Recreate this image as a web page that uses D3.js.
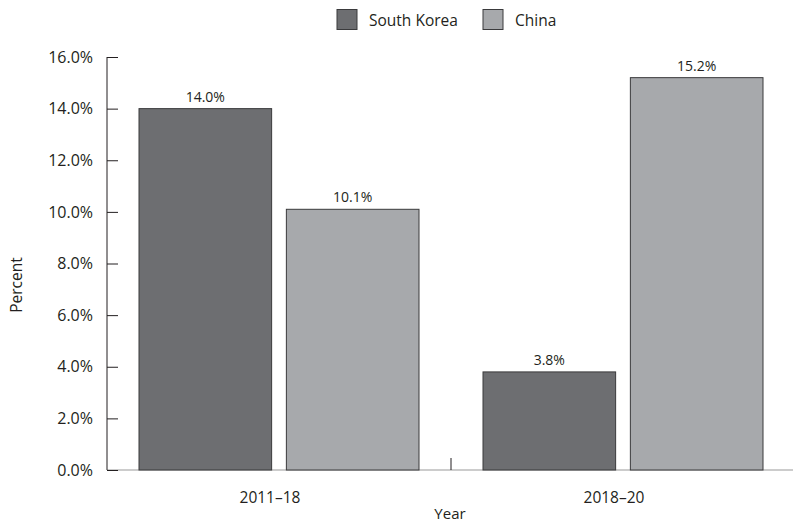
<!DOCTYPE html>
<html>
<head>
<meta charset="utf-8">
<script src="https://cdn.jsdelivr.net/npm/d3@7"></script>
<style>
  body { margin: 0; background: #fff; }
  text { font-family: "Open Sans", "Noto Sans", sans-serif; fill: #231f20; }
</style>
</head>
<body>
<svg id="chart" width="793" height="523"></svg>
<script>
// Growth rates by period, South Korea vs China
const periods = ["2011\u201318", "2018\u201320"];
const seriesNames = ["South Korea", "China"];
const southKorea = [14.0, 3.8];
const china = [10.1, 15.2];
const yTicks = [0, 2, 4, 6, 8, 10, 12, 14, 16];
const colors = ["#6d6e71", "#a7a9ac"];

const svg = d3.select("#chart");
const margin = { left: 107, right: 0, top: 57, bottom: 53 };
const W = 793, H = 523;

const x0 = d3.scaleBand().domain(periods).range([margin.left, 795]).paddingInner(0).paddingOuter(0);
const x1 = d3.scaleBand().domain(seriesNames).range([32, x0.bandwidth() - 32]).paddingInner(0.1).paddingOuter(0);
const y = d3.scaleLinear().domain([0, 16]).range([H - margin.bottom, margin.top]);

const rows = periods.map((p, i) => ({ period: p, values: [southKorea[i], china[i]] }));

// X axis baseline (light grey) with a divider tick between periods
svg.append("line")
  .attr("x1", margin.left).attr("x2", W)
  .attr("y1", y(0)).attr("y2", y(0))
  .attr("stroke", "#9a9a9a").attr("stroke-width", 1.2);
svg.append("line")
  .attr("x1", x0(periods[1])).attr("x2", x0(periods[1]))
  .attr("y1", y(0)).attr("y2", y(0) - 12)
  .attr("stroke", "#231f20").attr("stroke-width", 1);

// Y axis with inward ticks
const yAxis = d3.axisLeft(y).tickValues(yTicks).tickSize(-11).tickPadding(14)
  .tickFormat(d => d.toFixed(1) + "%");
const gy = svg.append("g").attr("transform", `translate(${margin.left},0)`).call(yAxis);
gy.select(".domain").attr("stroke", "#231f20").attr("d", `M0,${y(16)}V${y(0)}`);
gy.selectAll(".tick line").attr("stroke", "#231f20");
gy.selectAll(".tick text").attr("font-size", 16).attr("fill", "#231f20")
  .style("font-family", "'Open Sans', 'Noto Sans', sans-serif");

// Bars
const groups = svg.selectAll("g.grp").data(rows).join("g")
  .attr("class", "grp")
  .attr("transform", d => `translate(${x0(d.period)},0)`);

groups.selectAll("rect").data(d => d.values.map((v, i) => ({ name: seriesNames[i], v, i })))
  .join("rect")
  .attr("x", d => x1(d.name))
  .attr("width", x1.bandwidth())
  .attr("y", d => y(d.v))
  .attr("height", d => y(0) - y(d.v))
  .attr("fill", d => colors[d.i])
  .attr("stroke", "#3a3a3c").attr("stroke-width", 1);

groups.selectAll("text.val").data(d => d.values.map((v, i) => ({ name: seriesNames[i], v, i })))
  .join("text")
  .attr("class", "val")
  .attr("x", d => x1(d.name) + x1.bandwidth() / 2)
  .attr("y", d => y(d.v) - 7)
  .attr("text-anchor", "middle")
  .attr("font-size", 14)
  .text(d => d.v.toFixed(1) + "%");

// X category labels
svg.selectAll("text.cat").data(periods).join("text")
  .attr("class", "cat")
  .attr("x", d => x0(d) + x0.bandwidth() / 2 - 9)
  .attr("y", 503)
  .attr("text-anchor", "middle")
  .attr("font-size", 15.5)
  .text(d => d);

// Axis titles
svg.append("text").attr("x", 450).attr("y", 519).attr("text-anchor", "middle")
  .attr("font-size", 15).text("Year");
svg.append("text").attr("transform", `translate(22,285) rotate(-90)`)
  .attr("text-anchor", "middle").attr("font-size", 15.5).text("Percent");

// Legend
const legend = svg.append("g");
const legendX = [337, 483];
seriesNames.forEach((name, i) => {
  legend.append("rect").attr("x", legendX[i]).attr("y", 9.5).attr("width", 20).attr("height", 20)
    .attr("fill", colors[i]).attr("stroke", "#3a3a3c").attr("stroke-width", 1);
  legend.append("text").attr("x", legendX[i] + 32).attr("y", 26)
    .attr("font-size", 15.5).text(name);
});
</script>
</body>
</html>
